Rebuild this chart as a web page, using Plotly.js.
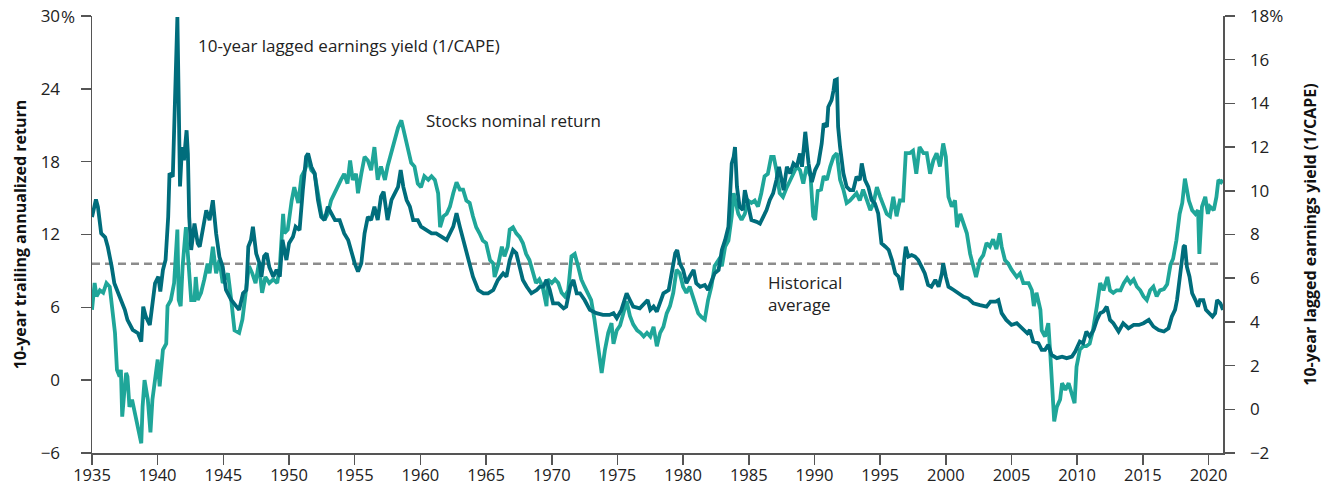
<!DOCTYPE html>
<html>
<head>
<meta charset="utf-8">
<script src="https://cdn.plot.ly/plotly-3.0.1.min.js"></script>
<style>html,body{margin:0;padding:0;background:#fff;}#chart{width:1327px;height:489px;}</style>
</head>
<body>
<div id="chart"></div>
<script>
// 10-year lagged earnings yield (1/CAPE), right axis, percent
const yieldYears = [1935.0,1935.3,1935.45,1935.7,1936.0,1936.2,1936.5,1936.7,1937.0,1937.2,1937.5,1937.7,1938.1,1938.5,1938.75,1938.9,1939.1,1939.4,1939.6,1939.8,1940.05,1940.2,1940.4,1940.6,1940.8,1940.9,1941.15,1941.35,1941.5,1941.6,1941.7,1941.85,1942.0,1942.2,1942.3,1942.4,1942.55,1942.8,1943.05,1943.2,1943.4,1943.7,1943.95,1944.2,1944.45,1944.7,1944.95,1945.2,1945.6,1946.0,1946.2,1946.5,1946.75,1946.9,1947.1,1947.25,1947.5,1947.75,1947.9,1948.1,1948.3,1948.5,1948.8,1949.05,1949.3,1949.5,1949.8,1950.0,1950.3,1950.5,1950.8,1951.05,1951.3,1951.45,1951.7,1951.95,1952.2,1952.45,1952.7,1952.95,1953.2,1953.5,1953.85,1954.2,1954.5,1954.75,1955.0,1955.25,1955.5,1955.75,1956.0,1956.25,1956.5,1956.75,1957.0,1957.2,1957.5,1957.8,1958.05,1958.3,1958.5,1958.7,1958.95,1959.2,1959.45,1959.8,1960.05,1960.45,1960.85,1961.2,1961.6,1962.0,1962.5,1962.75,1963.0,1963.25,1963.5,1963.75,1964.0,1964.4,1964.8,1965.15,1965.55,1965.9,1966.3,1966.55,1966.8,1967.05,1967.3,1967.55,1967.8,1968.1,1968.45,1968.85,1969.1,1969.35,1969.6,1969.85,1970.1,1970.5,1970.9,1971.1,1971.4,1971.65,1971.9,1972.15,1972.5,1972.9,1973.4,1973.9,1974.4,1974.7,1974.95,1975.3,1975.7,1975.95,1976.2,1976.7,1977.1,1977.3,1977.5,1977.75,1978.0,1978.25,1978.5,1978.9,1979.1,1979.4,1979.55,1979.75,1980.0,1980.25,1980.5,1980.8,1981.0,1981.3,1981.65,1981.9,1982.2,1982.4,1982.7,1982.95,1983.2,1983.45,1983.7,1983.85,1983.95,1984.1,1984.3,1984.55,1984.7,1984.95,1985.2,1985.6,1985.85,1986.1,1986.35,1986.6,1986.85,1987.1,1987.3,1987.5,1987.65,1987.9,1988.15,1988.4,1988.65,1988.9,1989.05,1989.3,1989.55,1989.8,1990.05,1990.3,1990.55,1990.7,1990.95,1991.05,1991.3,1991.45,1991.55,1991.7,1991.8,1991.95,1992.2,1992.45,1992.7,1992.95,1993.2,1993.45,1993.6,1993.85,1994.1,1994.35,1994.6,1994.85,1995.1,1995.4,1995.65,1995.9,1996.15,1996.4,1996.65,1996.8,1996.95,1997.15,1997.4,1997.65,1997.9,1998.15,1998.4,1998.65,1998.9,1999.2,1999.45,1999.7,1999.8,2000.0,2000.2,2000.6,2001.0,2001.35,2001.7,2002.1,2002.6,2003.1,2003.4,2003.8,2004.0,2004.25,2004.6,2005.0,2005.4,2005.8,2006.2,2006.4,2006.65,2007.05,2007.3,2007.55,2007.8,2008.05,2008.45,2008.85,2009.2,2009.6,2009.85,2010.2,2010.45,2010.7,2010.95,2011.25,2011.5,2011.75,2012.0,2012.25,2012.5,2012.75,2013.15,2013.5,2013.9,2014.3,2014.7,2015.05,2015.45,2015.8,2016.2,2016.6,2016.95,2017.2,2017.45,2017.6,2017.8,2018.0,2018.1,2018.2,2018.35,2018.55,2018.75,2019.0,2019.2,2019.35,2019.6,2019.8,2020.0,2020.3,2020.5,2020.65,2020.9,2021.1];
const yieldValues = [8.8,9.6,9.27,8.05,7.87,7.44,6.53,5.77,5.31,5.0,4.55,4.09,3.63,3.48,3.1,4.7,4.24,3.86,4.7,5.77,6.07,5.39,6.38,6.83,8.81,10.8,10.64,15.67,17.95,14.15,10.2,12.0,11.4,12.77,11.7,8.8,7.29,8.5,7.6,7.44,8.05,9.11,8.66,9.57,8.05,6.98,6.53,5.46,5.0,4.7,4.55,5.31,5.46,7.44,7.75,8.35,7.13,6.68,6.07,7.0,7.14,6.5,6.07,6.38,6.07,7.75,6.83,7.6,7.9,8.36,8.2,10.03,11.56,11.71,11.1,10.8,9.58,8.81,8.66,9.27,8.97,8.66,8.66,8.05,7.75,7.14,6.68,6.3,6.68,8.05,8.81,8.66,9.27,8.66,9.73,9.96,8.66,9.58,9.88,10.18,10.95,10.18,9.58,9.27,8.66,8.66,8.36,8.2,8.05,8.05,7.9,7.75,8.36,8.97,8.36,7.75,7.14,6.53,6.07,5.46,5.31,5.31,5.46,5.92,6.22,6.07,6.83,7.29,7.14,6.53,5.92,5.61,5.31,5.46,5.61,5.61,5.92,5.46,4.85,4.85,4.62,4.7,5.61,5.92,5.31,5.31,5.0,4.55,4.4,4.32,4.32,4.4,4.17,4.55,5.31,5.0,4.7,4.62,4.85,5.0,4.55,4.7,4.47,4.85,5.31,5.46,6.07,7.14,7.29,6.68,6.38,5.77,6.07,6.38,5.77,5.61,5.69,5.46,5.92,6.22,6.38,7.29,7.75,8.36,11.25,11.56,12.0,10.18,9.27,9.12,10.03,9.27,8.66,8.58,8.5,8.81,9.12,9.58,9.88,10.49,11.1,10.49,10.03,11.1,10.8,11.25,11.1,11.71,11.1,12.7,11.25,10.4,10.95,11.25,12.16,13.08,12.93,13.84,14.15,14.6,15.06,15.1,12.93,12.0,10.8,10.18,10.03,10.03,10.64,10.49,11.25,10.49,10.18,9.58,9.42,8.97,7.6,7.44,7.29,6.83,6.22,6.07,5.46,6.68,7.44,6.99,7.06,6.99,6.83,6.53,6.22,5.69,5.61,5.92,5.61,6.22,6.68,6.07,5.61,5.46,5.31,5.15,5.08,4.85,4.77,4.7,4.93,4.93,5.0,4.4,4.09,3.86,3.94,3.71,3.48,3.63,3.1,3.02,2.72,2.72,2.95,2.49,2.34,2.41,2.34,2.41,2.64,3.1,3.02,3.56,3.33,3.63,4.09,4.4,4.47,4.7,4.09,3.94,3.56,3.94,3.71,3.86,3.86,3.94,4.09,3.79,3.63,3.56,3.71,4.24,4.55,5.0,6.07,6.83,7.44,7.5,6.53,6.07,5.31,5.0,4.7,5.0,5.0,4.55,4.4,4.24,4.4,5.0,4.85,4.55];

// Stocks nominal 10-year trailing annualized return, left axis, percent
const returnYears = [1935.0,1935.2,1935.35,1935.6,1935.85,1936.1,1936.35,1936.5,1936.6,1936.75,1936.9,1937.1,1937.2,1937.3,1937.45,1937.6,1937.7,1937.85,1938.05,1938.25,1938.5,1938.75,1938.85,1939.0,1939.25,1939.45,1939.6,1939.75,1940.0,1940.15,1940.4,1940.65,1940.75,1941.0,1941.25,1941.5,1941.6,1941.75,1941.9,1942.15,1942.3,1942.55,1942.8,1942.9,1943.05,1943.3,1943.55,1943.8,1943.95,1944.2,1944.45,1944.7,1944.95,1945.35,1945.6,1945.85,1946.2,1946.45,1946.7,1946.95,1947.2,1947.45,1947.7,1947.95,1948.2,1948.5,1948.8,1949.1,1949.3,1949.55,1949.65,1949.9,1950.2,1950.4,1950.7,1950.95,1951.2,1951.45,1951.7,1951.95,1952.2,1952.45,1952.7,1952.95,1953.2,1953.45,1953.7,1953.95,1954.2,1954.45,1954.65,1954.85,1955.1,1955.25,1955.5,1955.75,1956.0,1956.25,1956.5,1956.75,1957.0,1957.3,1957.5,1957.8,1958.05,1958.3,1958.55,1958.8,1959.05,1959.3,1959.55,1959.8,1960.05,1960.3,1960.6,1960.85,1961.1,1961.35,1961.5,1961.75,1962.0,1962.25,1962.5,1962.75,1963.0,1963.25,1963.5,1963.75,1964.0,1964.25,1964.5,1964.75,1965.0,1965.3,1965.55,1965.65,1965.9,1966.2,1966.4,1966.65,1966.8,1967.05,1967.3,1967.55,1967.8,1968.05,1968.3,1968.55,1968.8,1969.05,1969.3,1969.6,1969.7,1970.0,1970.25,1970.5,1970.75,1971.0,1971.25,1971.5,1971.75,1972.0,1972.25,1972.5,1972.75,1973.0,1973.25,1973.5,1973.8,1974.05,1974.3,1974.55,1974.7,1974.95,1975.2,1975.45,1975.7,1975.95,1976.2,1976.5,1976.75,1977.0,1977.25,1977.5,1977.75,1978.0,1978.25,1978.5,1978.75,1979.0,1979.25,1979.5,1979.75,1980.0,1980.25,1980.5,1980.75,1981.15,1981.4,1981.65,1981.9,1982.15,1982.4,1982.7,1982.95,1983.2,1983.45,1983.7,1983.85,1983.95,1984.2,1984.45,1984.7,1984.95,1985.2,1985.45,1985.7,1985.95,1986.2,1986.45,1986.7,1986.9,1987.1,1987.35,1987.6,1987.9,1988.15,1988.4,1988.65,1988.9,1989.15,1989.4,1989.7,1989.9,1990.05,1990.25,1990.5,1990.7,1990.95,1991.2,1991.45,1991.7,1991.8,1991.95,1992.2,1992.45,1992.7,1992.95,1993.2,1993.45,1993.7,1994.0,1994.25,1994.5,1994.75,1995.0,1995.25,1995.5,1995.75,1996.0,1996.25,1996.5,1996.75,1996.95,1997.25,1997.5,1997.75,1998.0,1998.3,1998.55,1998.8,1999.05,1999.3,1999.55,1999.8,2000.0,2000.2,2000.45,2000.7,2000.85,2001.1,2001.35,2001.6,2001.85,2002.1,2002.3,2002.6,2002.85,2003.1,2003.35,2003.6,2003.85,2004.1,2004.25,2004.5,2004.75,2005.0,2005.4,2005.65,2005.9,2006.3,2006.55,2006.7,2006.9,2007.2,2007.3,2007.55,2007.8,2007.95,2008.1,2008.25,2008.45,2008.7,2008.85,2009.1,2009.35,2009.6,2009.8,2009.95,2010.2,2010.45,2010.7,2010.95,2011.2,2011.5,2011.75,2012.0,2012.3,2012.5,2012.75,2013.0,2013.3,2013.55,2013.8,2014.05,2014.3,2014.55,2014.8,2015.05,2015.3,2015.55,2015.8,2016.05,2016.3,2016.6,2016.85,2017.1,2017.3,2017.55,2017.8,2018.0,2018.1,2018.2,2018.35,2018.5,2018.75,2019.0,2019.2,2019.3,2019.5,2019.75,2019.95,2020.1,2020.4,2020.6,2020.75,2020.95,2021.1];
const returnValues = [5.8,8.0,6.9,7.4,7.2,8.0,7.7,6.1,5.5,3.9,0.85,0.3,0.85,-3.0,-1.1,0.6,0.3,-2.2,-1.6,-2.7,-3.8,-5.2,-2.2,0.0,-1.6,-4.3,-1.6,-0.25,1.7,-0.5,2.5,3.0,6.1,6.6,8.0,12.4,6.6,6.1,9.4,12.6,9.9,6.6,6.6,8.5,6.6,7.2,8.3,9.6,8.8,11.0,8.8,9.9,8.0,8.8,6.6,4.1,3.9,5.0,7.2,9.4,8.8,8.0,9.6,7.2,8.5,8.0,8.3,8.0,9.4,13.7,12.1,12.4,14.8,15.9,14.6,16.8,17.3,18.1,17.3,17.0,15.4,13.7,13.2,13.7,14.8,15.4,15.9,16.5,17.0,16.2,18.1,16.5,17.0,15.4,17.0,18.4,18.1,17.3,19.2,16.5,17.6,16.5,17.6,18.9,20.0,20.8,21.4,20.3,19.2,17.9,17.6,16.2,15.9,16.8,16.5,16.8,16.5,15.4,12.6,13.5,13.7,14.3,15.4,16.3,15.7,15.7,14.8,14.6,13.5,12.6,12.1,11.5,11.3,9.9,9.6,8.5,9.4,11.0,10.2,11.0,12.4,12.6,12.1,11.8,11.3,10.4,9.9,8.8,8.0,8.3,7.7,6.1,8.3,8.0,8.3,8.0,7.2,6.9,7.4,10.2,10.4,9.4,8.3,7.7,7.2,6.6,5.0,3.0,0.6,2.5,3.9,4.7,3.0,4.1,4.5,5.5,6.5,5.3,4.6,4.1,3.9,3.6,3.9,3.6,4.4,2.8,3.9,4.4,5.5,6.1,7.2,9.1,8.8,7.7,7.2,7.7,6.9,5.5,5.2,5.0,6.6,7.7,9.4,9.9,9.4,11.0,11.5,13.5,15.4,14.8,13.7,13.2,13.7,14.8,14.6,14.8,14.3,15.4,16.8,17.0,18.4,18.4,17.3,15.4,15.1,15.9,16.5,17.0,17.6,17.3,16.2,17.6,16.8,13.5,13.2,15.6,15.7,16.8,16.5,17.6,18.4,18.7,17.9,16.5,15.7,14.6,14.8,15.1,15.4,14.8,15.7,14.8,14.0,14.6,15.9,15.1,14.3,13.7,13.5,15.1,13.5,14.8,14.8,18.7,18.7,18.9,17.0,19.2,18.7,18.7,17.0,18.1,18.7,17.6,19.5,18.4,15.1,14.3,14.8,12.6,13.7,12.9,12.1,10.4,9.4,8.5,9.9,10.3,11.3,11.0,11.6,10.8,12.1,11.0,9.9,9.6,9.1,8.5,8.8,8.0,8.0,7.4,6.1,7.2,5.8,4.1,3.6,4.7,2.2,-1.1,-3.4,-2.2,-1.6,-0.25,-0.8,-0.25,-1.1,-1.9,1.1,2.5,2.8,2.8,3.0,4.1,6.1,8.0,7.4,8.5,7.4,7.2,7.4,7.4,8.0,8.4,8.0,8.3,7.7,7.4,6.9,6.6,7.4,7.7,6.9,7.4,7.5,7.9,9.5,10.0,11.5,13.7,14.6,15.9,16.6,15.7,14.8,14.0,13.7,14.0,10.4,14.3,15.1,13.7,14.3,14.0,15.1,16.5,16.3,16.5];

const historicalAverage = 9.6;
const xRange = [1935, 2021.1];
const xTickVals = [1935,1940,1945,1950,1955,1960,1965,1970,1975,1980,1985,1990,1995,2000,2005,2010,2015,2020];
const leftTickVals = [-6,0,6,12,18,24,30];
const leftTickText = ['\u22126','0','6','12','18','24','30'];
const rightTickVals = [-2,0,2,4,6,8,10,12,14,16,18];
const rightTickText = ['\u22122','0','2','4','6','8','10','12','14','16','18%'];

const FONT = '"Open Sans", "Noto Sans", "DejaVu Sans", sans-serif';
const DARK = '#006d7c';
const LIGHT = '#1fa699';
const AXIS = '#555555';

const traces = [
  {x: xRange, y: [historicalAverage, historicalAverage], yaxis: 'y', mode: 'lines',
   line: {color: '#8c8c8c', width: 2.5, dash: '8px,5px'}, hoverinfo: 'skip', showlegend: false},
  {x: returnYears, y: returnValues, yaxis: 'y', mode: 'lines', name: 'Stocks nominal return',
   line: {color: LIGHT, width: 3.8, shape: 'linear'}, showlegend: false},
  {x: yieldYears, y: yieldValues, yaxis: 'y2', mode: 'lines', name: '10-year lagged earnings yield (1/CAPE)',
   line: {color: DARK, width: 3.8, shape: 'linear'}, showlegend: false}
];

const layout = {
  width: 1327, height: 489,
  margin: {l: 92, r: 104, t: 16, b: 36},
  paper_bgcolor: '#ffffff', plot_bgcolor: '#ffffff',
  font: {family: FONT, size: 16, color: '#222222'},
  showlegend: false,
  xaxis: {
    range: xRange, tickmode: 'array', tickvals: xTickVals,
    ticks: 'outside', ticklen: 10, tickwidth: 1.5, tickcolor: AXIS,
    showline: true, linecolor: AXIS, linewidth: 1.5,
    showgrid: false, zeroline: false, ticklabelstandoff: -3,
    tickfont: {family: FONT, size: 16.5, color: '#222'}
  },
  yaxis: {
    range: [-6, 30], tickmode: 'array', tickvals: leftTickVals, ticktext: leftTickText,
    ticks: 'outside', ticklen: 10, tickwidth: 1.5, tickcolor: AXIS,
    showline: true, linecolor: AXIS, linewidth: 1.5,
    showgrid: false, zeroline: false, ticklabelstandoff: 17,
    tickfont: {family: FONT, size: 17, color: '#222'},
    title: {text: '10-year trailing annualized return', standoff: 10,
            font: {family: FONT, size: 16, color: '#111', weight: 'bold'}}
  },
  yaxis2: {
    range: [-2, 18], overlaying: 'y', side: 'right', anchor: 'x',
    tickmode: 'array', tickvals: rightTickVals, ticktext: rightTickText,
    ticks: 'outside', ticklen: 10, tickwidth: 1.5, tickcolor: AXIS,
    showline: true, linecolor: AXIS, linewidth: 1.5,
    showgrid: false, zeroline: false, ticklabelstandoff: 12,
    tickfont: {family: FONT, size: 17, color: '#222'},
    title: {text: '10-year lagged earnings yield (1/CAPE)', standoff: 22,
            font: {family: FONT, size: 16, color: '#111', weight: 'bold'}}
  },
  annotations: [
    {text: '%', xref: 'paper', yref: 'y', x: -0.0288, y: 30, xanchor: 'left', yanchor: 'middle',
     showarrow: false, font: {family: FONT, size: 17, color: '#222'}},
    {text: '10-year lagged earnings yield (1/CAPE)', xref: 'x', yref: 'y', x: 1942.9, y: 27.6,
     xanchor: 'left', yanchor: 'middle', showarrow: false, font: {family: FONT, size: 17, color: '#222'}},
    {text: 'Stocks nominal return', xref: 'x', yref: 'y', x: 1960.3, y: 21.4,
     xanchor: 'left', yanchor: 'middle', showarrow: false, font: {family: FONT, size: 17, color: '#222'}},
    {text: 'Historical<br>average', xref: 'x', yref: 'y', x: 1986.3, y: 7.1, align: 'left',
     xanchor: 'left', yanchor: 'middle', showarrow: false, font: {family: FONT, size: 17, color: '#222'}}
  ]
};

Plotly.newPlot('chart', traces, layout, {displayModeBar: false, staticPlot: true});
</script>
</body>
</html>
